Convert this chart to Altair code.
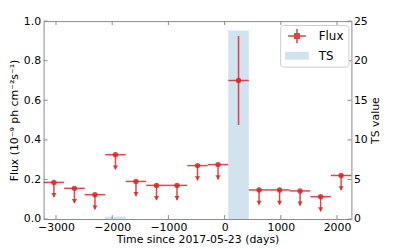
import altair as alt
import pandas as pd

# ---- data ----
t_center = [-3037, -2672, -2307, -1942, -1577, -1212, -847, -482, -117, 248, 613, 978, 1343, 1708, 2073]
bin_half = 182.5
flux = [0.185, 0.155, 0.123, 0.325, 0.19, 0.17, 0.17, 0.27, 0.275, 0.70, 0.147, 0.147, 0.142, 0.113, 0.22]
is_upper_limit = [True] * 9 + [False] + [True] * 5
flux_err_low = [0, 0, 0, 0, 0, 0, 0, 0, 0, 0.225, 0, 0, 0, 0, 0]
flux_err_high = [0, 0, 0, 0, 0, 0, 0, 0, 0, 0.225, 0, 0, 0, 0, 0]
ul_arrow = 0.075
ts_value = [0, 0, 0, 0.3, 0, 0, 0, 0, 0, 23.8, 0, 0, 0, 0, 0]
x_ticks = [-3000, -2000, -1000, 0, 1000, 2000]
flux_ticks = [0.0, 0.2, 0.4, 0.6, 0.8, 1.0]
ts_ticks = [0, 5, 10, 15, 20, 25]
legend_items = ["Flux", "TS"]

RED = "#d62728"
BLUE = "#d2e3f0"
GRAY = "#8a8a8a"
FONT = "DejaVu Sans"
W, H = 311, 200

rows = []
for c, f, ul, el, eh, ts in zip(t_center, flux, is_upper_limit, flux_err_low, flux_err_high, ts_value):
    rows.append(dict(t=c, t0=c - bin_half, t1=c + bin_half, flux=f, ul=ul,
                     lo=(f - ul_arrow) if ul else (f - el), hi=f if ul else (f + eh), ts=ts, zero=0))
df = pd.DataFrame(rows)
df_ul = df[df.ul]

xs = alt.Scale(domain=[-3220, 2256], nice=False, zero=False)
fs = alt.Scale(domain=[0, 1], nice=False)
tss = alt.Scale(domain=[0, 25], nice=False)

x_axis = alt.Axis(values=x_ticks, format="d", title="Time since 2017-05-23 (days)", tickSize=0,
                  domain=False, grid=False, labelPadding=3, titleX=W / 2, titleY=21,
                  titleBaseline="middle", titleAlign="center")
left_axis = alt.Axis(orient="left", values=flux_ticks, format=".1f",
                     title="Flux (10\u207b\u2079 ph cm\u207b\u00b2s\u207b\u00b9)", tickSize=0,
                     domain=False, grid=False, labelPadding=3, titleX=-29, titleY=H / 2,
                     titleAngle=270, titleBaseline="middle", titleAlign="center")
right_axis = alt.Axis(orient="right", values=ts_ticks, format="d", title="TS value", tickSize=0,
                      domain=False, grid=False, labelPadding=2, titleX=24, titleY=H / 2,
                      titleAngle=270, titleBaseline="middle", titleAlign="center")


def X(field):
    return alt.X(field, scale=xs, axis=x_axis)


ts_bars = alt.Chart(df).mark_rect(color=BLUE).encode(
    x=X("t0:Q"), x2="t1:Q",
    y=alt.Y("ts:Q", scale=tss, axis=right_axis),
    y2="zero:Q",
)
ts_tick_rules = alt.Chart(pd.DataFrame({"v": ts_ticks})).mark_rule(color=GRAY, strokeWidth=1).encode(
    y=alt.Y("v:Q", scale=tss, axis=None), x=alt.value(W), x2=alt.value(W - 4))

hbars = alt.Chart(df).mark_rule(color=RED, opacity=0.85, strokeWidth=1.5).encode(
    x=X("t0:Q"), x2="t1:Q",
    y=alt.Y("flux:Q", scale=fs, axis=left_axis),
)
vbars = alt.Chart(df).mark_rule(color=RED, opacity=0.85, strokeWidth=1.5).encode(
    x=X("t:Q"),
    y=alt.Y("lo:Q", scale=fs, axis=None), y2="hi:Q")
heads = alt.Chart(df_ul).mark_point(
    shape="M-0.9,-1.4L0.9,-1.4L0,0Z", size=36, filled=True, color=RED, opacity=0.85).encode(
    x=X("t:Q"), y=alt.Y("lo:Q", scale=fs, axis=None))
points = alt.Chart(df).mark_point(shape="circle", size=30, filled=True, color=RED, opacity=0.85).encode(
    x=X("t:Q"), y=alt.Y("flux:Q", scale=fs, axis=None))
left_ticks = alt.Chart(pd.DataFrame({"v": flux_ticks})).mark_rule(color=GRAY, strokeWidth=1).encode(
    y=alt.Y("v:Q", scale=fs, axis=None), x=alt.value(0), x2=alt.value(4))

x_ticks_df = pd.DataFrame({"v": x_ticks})
bottom_ticks = alt.Chart(x_ticks_df).mark_rule(color=GRAY, strokeWidth=1).encode(
    x=X("v:Q"), y=alt.value(H), y2=alt.value(H - 4))
top_ticks = alt.Chart(x_ticks_df).mark_rule(color=GRAY, strokeWidth=1).encode(
    x=X("v:Q"), y=alt.value(0), y2=alt.value(4))

flux_path = ("M-1.5,-0.125L1.5,-0.125L1.5,0.125L-1.5,0.125Z"
             "M-0.125,-1.17L0.125,-1.17L0.125,1.17L-0.125,1.17Z"
             "M-0.5,-0.5L0.5,-0.5L0.5,0.5L-0.5,0.5Z")
ts_path = "M-2,-0.67L2,-0.67L2,0.67L-2,0.67Z"
leg = alt.Legend(title=None, orient="none", legendX=239, legendY=4, padding=5,
                 symbolOffset=6, labelOffset=16, rowPadding=6, symbolSize=144,
                 symbolStrokeWidth=0, symbolOpacity=1, labelFontSize=12, labelFont=FONT,
                 labelColor="black", fillColor="white", strokeColor="#cccccc", cornerRadius=3)
legend_dummy = alt.Chart(pd.DataFrame({"series": legend_items})).mark_point(
    filled=True, clip=True).encode(
    x=alt.value(-500), y=alt.value(-500),
    color=alt.Color("series:N", scale=alt.Scale(domain=legend_items, range=["#dc4446", BLUE]), legend=leg),
    shape=alt.Shape("series:N", scale=alt.Scale(domain=legend_items, range=[flux_path, ts_path]), legend=leg),
)

chart = alt.layer(
    ts_bars, ts_tick_rules, hbars, vbars, heads, points, left_ticks, bottom_ticks, top_ticks, legend_dummy
).resolve_scale(y="independent").properties(
    width=W, height=H,
    autosize=alt.AutoSizeParams(type="none"),
    padding={"left": 36, "top": 12, "right": 40, "bottom": 25},
).configure_view(stroke=GRAY, strokeWidth=1).configure_axis(
    labelFont=FONT, labelFontSize=11, labelColor="black",
    titleFont=FONT, titleFontSize=11, titleFontWeight="normal", titleColor="black",
)

chart.save("out.html", embed_options={"renderer": "svg", "actions": False})
